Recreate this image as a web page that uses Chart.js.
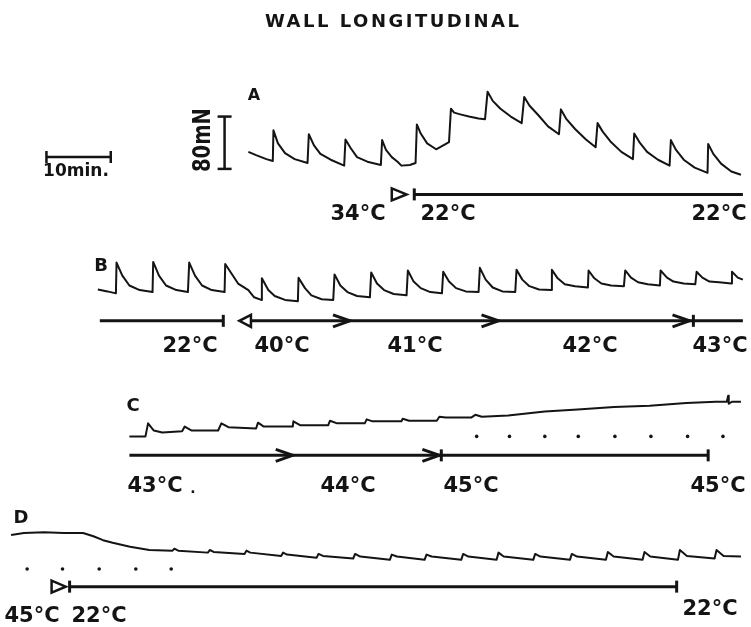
<!DOCTYPE html>
<html>
<head>
<meta charset="utf-8">
<title>Wall longitudinal</title>
<script src="https://cdn.jsdelivr.net/npm/chart.js@4.4.1/dist/chart.umd.min.js"></script>
<style>
  html, body { margin: 0; padding: 0; background: #fff; }
  #chart { display: block; }
</style>
</head>
<body>
<canvas id="chart" width="751" height="627"></canvas>
<script>
// page scale: 10 min = 65 px, 80 mN = 53 px
const PX_PER_MIN = 6.5;
const PX_PER_MN = 0.6625;
const X_MAX = 751 / PX_PER_MIN;
const Y_MAX = 627 / PX_PER_MN;
const INK = '#141414';
const FONT = '"DejaVu Sans", Verdana, sans-serif';

// traces: time (min from trace start), force (mN above trace baseline)
const aTime = [0, 1.2, 2.8, 3.8, 3.9, 4.6, 5.7, 7.2, 9.2, 9.4, 10.2, 11.2, 12.8, 14.9, 15.1, 15.9, 16.9, 18.5, 20.6, 20.8, 21.4, 22.3, 23.2, 23.8, 25.1, 26.0, 26.2, 26.8, 27.8, 29.2, 31.2, 31.5, 32.0, 33.1, 34.3, 35.8, 36.8, 37.2, 38.0, 39.2, 40.8, 42.5, 42.9, 43.7, 45.1, 46.6, 48.3, 48.6, 49.4, 50.8, 52.5, 54.0, 54.3, 55.1, 56.3, 58.0, 59.8, 60.0, 60.8, 62.0, 63.7, 65.5, 65.7, 66.5, 67.7, 69.4, 71.4, 71.5, 72.3, 73.5, 75.1, 76.6];
const aForce = [38, 33, 27, 24, 71, 51, 36, 27, 21, 65, 48, 35, 26, 17, 57, 44, 30, 23, 18, 56, 41, 30, 23, 17, 18, 21, 80, 66, 51, 42, 53, 104, 98, 95, 92, 89, 88, 130, 116, 104, 92, 82, 122, 109, 94, 77, 65, 103, 89, 73, 57, 45, 82, 69, 54, 38, 27, 66, 53, 38, 26, 17, 56, 41, 26, 14, 6, 50, 35, 20, 8, 3];

const bTime = [0, 1.5, 2.8, 2.9, 3.8, 4.9, 6.5, 8.5, 8.6, 9.5, 10.6, 12.2, 14.0, 14.2, 15.1, 16.2, 17.7, 19.7, 19.8, 20.8, 21.8, 23.4, 24.3, 25.4, 25.5, 26.5, 27.5, 29.1, 31.1, 31.2, 32.2, 33.2, 34.8, 36.6, 36.8, 37.7, 38.8, 40.3, 42.3, 42.5, 43.4, 44.5, 46.0, 48.0, 48.2, 49.1, 50.2, 51.7, 53.5, 53.7, 54.6, 55.7, 57.2, 59.2, 59.4, 60.3, 61.4, 62.9, 64.9, 65.1, 66.0, 67.1, 68.6, 70.5, 70.6, 71.5, 72.6, 74.2, 76.2, 76.3, 77.2, 78.3, 79.8, 81.8, 82.0, 82.9, 84.0, 85.5, 87.4, 87.5, 88.5, 89.5, 91.1, 92.9, 93.1, 94.0, 95.1, 96.6, 98.5, 98.6, 99.5, 100.3];
const bForce = [24, 21, 18, 65, 45, 30, 23, 20, 66, 45, 30, 23, 20, 65, 45, 30, 23, 20, 63, 48, 33, 23, 12, 8, 41, 23, 14, 8, 6, 42, 26, 15, 9, 8, 47, 30, 20, 14, 12, 50, 33, 23, 17, 15, 53, 36, 26, 20, 18, 51, 36, 26, 21, 20, 57, 39, 27, 21, 20, 54, 39, 29, 24, 23, 54, 41, 32, 29, 27, 53, 41, 33, 30, 29, 53, 42, 35, 32, 30, 53, 42, 36, 33, 32, 51, 42, 36, 35, 33, 51, 42, 39];

const cTime = [0, 2.5, 2.9, 3.8, 5.1, 8.2, 8.6, 9.7, 13.8, 14.3, 15.4, 19.7, 20.0, 20.9, 25.4, 25.5, 26.6, 30.9, 31.2, 32.3, 36.6, 36.9, 37.8, 42.3, 42.5, 43.5, 47.8, 48.2, 49.2, 53.2, 53.8, 54.8, 58.9, 64.6, 69.7, 75.4, 80.9, 86.6, 91.2, 92.9, 93.1, 93.2, 93.7, 95.1];
const cForce = [3, 3, 23, 12, 9, 11, 18, 12, 12, 23, 17, 15, 24, 18, 18, 26, 20, 20, 27, 23, 23, 29, 26, 26, 30, 27, 27, 33, 32, 32, 36, 33, 35, 41, 44, 48, 50, 54, 56, 56, 65, 53, 56, 56];

const dTime = [0, 2.0, 5.1, 8.2, 11.2, 12.8, 14.3, 15.8, 18.5, 21.5, 25.1, 25.4, 26.0, 30.6, 30.9, 31.5, 36.3, 36.6, 37.2, 42.0, 42.3, 42.9, 47.5, 47.8, 48.5, 53.2, 53.5, 54.3, 58.9, 59.2, 60.0, 64.3, 64.6, 65.4, 70.0, 70.3, 71.1, 75.5, 75.8, 76.6, 81.2, 81.5, 82.3, 86.9, 87.2, 88.0, 92.5, 92.8, 93.7, 98.2, 98.5, 99.4, 103.7, 104.0, 105.1, 109.4, 109.7, 110.8, 113.5];
const dForce = [41, 44, 45, 44, 44, 39, 33, 29, 23, 18, 17, 20, 17, 14, 18, 15, 12, 17, 14, 9, 14, 11, 6, 12, 9, 5, 12, 8, 3, 11, 8, 3, 11, 8, 3, 12, 8, 3, 14, 8, 3, 12, 8, 3, 12, 8, 3, 15, 8, 3, 15, 8, 3, 18, 9, 5, 18, 9, 8];

// temperature protocol bars (min from trace start)
const aBars = [[25.8, 76.9]];
const aTicks = [25.8];
const bBars = [[0.3, 19.5], [23.8, 100.3]];
const bTicks = [19.5, 92.6];
const bArrows = [39.2, 62.3, 92.0];
const cBars = [[0, 90.0]];
const cTicks = [48.5, 90.0];
const cArrows = [25.4, 48.2];
const cDots = [54.0, 59.1, 64.6, 69.8, 75.5, 81.1, 86.8, 92.3];
const dBars = [[9.1, 103.5]];
const dTicks = [9.1, 103.5];
const dDots = [2.5, 8.0, 13.7, 19.4, 24.9];

// where each record sits on the page (min, mN) and its protocol rows
const PANELS = [
  { t0: 38.0, f0: 682.3, time: aTime, force: aForce, barY: -27, bars: aBars, ticks: aTicks, arrows: [], tri: { tip: 24.6, base: 22.3 }, dots: [], dotY: 0 },
  { t0: 14.6, f0: 486.0, time: bTime, force: bForce, barY: -24, bars: bBars, ticks: bTicks, arrows: bArrows, tri: { tip: 22.0, base: 23.8 }, dots: [], dotY: 0 },
  { t0: 19.5, f0: 282.3, time: cTime, force: cForce, barY: -26, bars: cBars, ticks: cTicks, arrows: cArrows, tri: null, dots: cDots, dotY: 3 },
  { t0: 1.1, f0: 93.6, time: dTime, force: dForce, barY: -38, bars: dBars, ticks: dTicks, arrows: [], tri: { tip: 8.5, base: 6.3 }, dots: dDots, dotY: -11 }
];

// calibration bars, page units
const timeBar = { x0: 6.6, x1: 16.6, y: 712.5 };
const forceBar = { x: 34.3, y0: 694.3, y1: 774.3 };

// text, x, y, font size, letter spacing
const LABELS = [
  ['WALL LONGITUDINAL', 392, 22, 18, 2.5],
  ['A', 254, 96, 16, 0], ['B', 101, 266, 18, 0], ['C', 133, 406, 18, 0], ['D', 21, 518, 18, 0],
  ['10min.', 76, 172, 17, 0],
  ['34°C', 358, 215, 21, 0], ['22°C', 448, 215, 21, 0], ['22°C', 719, 215, 21, 0],
  ['22°C', 190, 347, 21, 0], ['40°C', 282, 347, 21, 0], ['41°C', 415, 347, 21, 0], ['42°C', 590, 347, 21, 0], ['43°C', 720, 347, 21, 0],
  ['43°C', 155, 487, 21, 0], ['.', 193, 489, 14, 0], ['44°C', 348, 487, 21, 0], ['45°C', 471, 487, 21, 0], ['45°C', 718, 487, 21, 0],
  ['45°C', 32, 617, 21, 0], ['22°C', 99, 617, 21, 0], ['22°C', 710, 610, 21, 0]
];

function toPage(p, t, f) {
  return { x: p.t0 + t, y: p.f0 + f };
}

function lineSet(data, width) {
  return { data, showLine: true, borderColor: INK, borderWidth: width, pointRadius: 0, tension: 0, borderJoinStyle: 'round', borderCapStyle: 'butt' };
}

const datasets = [];
PANELS.forEach(p => {
  datasets.push(lineSet(p.time.map((t, i) => toPage(p, t, p.force[i])), 2));
  p.bars.forEach(b => datasets.push(lineSet([toPage(p, b[0], p.barY), toPage(p, b[1], p.barY)], 3)));
  if (p.dots.length) {
    datasets.push({ data: p.dots.map(t => toPage(p, t, p.dotY)), showLine: false, pointRadius: 1.8, pointBackgroundColor: INK, pointBorderWidth: 0 });
  }
});
datasets.push(lineSet([{ x: timeBar.x0, y: timeBar.y }, { x: timeBar.x1, y: timeBar.y }], 2.5));
datasets.push(lineSet([{ x: forceBar.x, y: forceBar.y0 }, { x: forceBar.x, y: forceBar.y1 }], 2.5));

const marks = {
  id: 'marks',
  afterDatasetsDraw(chart) {
    const ctx = chart.ctx;
    const sx = chart.scales.x, sy = chart.scales.y;
    const px = v => sx.getPixelForValue(v);
    const py = v => sy.getPixelForValue(v);
    ctx.save();
    ctx.strokeStyle = INK;
    ctx.fillStyle = INK;
    ctx.lineCap = 'butt';

    const seg = (x0, y0, x1, y1, w) => {
      ctx.lineWidth = w;
      ctx.beginPath(); ctx.moveTo(x0, y0); ctx.lineTo(x1, y1); ctx.stroke();
    };

    PANELS.forEach(p => {
      const y = py(p.f0 + p.barY);
      p.ticks.forEach(t => { const x = px(p.t0 + t); seg(x, y - 6, x, y + 6, 3); });
      p.arrows.forEach(t => {
        const x = px(p.t0 + t);
        ctx.lineWidth = 3; ctx.lineJoin = 'miter';
        ctx.beginPath(); ctx.moveTo(x - 17, y - 6); ctx.lineTo(x, y); ctx.lineTo(x - 17, y + 6); ctx.stroke();
      });
      if (p.tri) {
        const xt = px(p.t0 + p.tri.tip), xb = px(p.t0 + p.tri.base);
        ctx.lineWidth = 2.5; ctx.lineJoin = 'miter';
        ctx.beginPath(); ctx.moveTo(xb, y - 6); ctx.lineTo(xt, y); ctx.lineTo(xb, y + 6); ctx.closePath(); ctx.stroke();
      }
    });

    // calibration bar end caps
    const ty = py(timeBar.y);
    [timeBar.x0, timeBar.x1].forEach(v => seg(px(v), ty - 6, px(v), ty + 6, 2.5));
    const fx = px(forceBar.x);
    [forceBar.y0, forceBar.y1].forEach(v => seg(fx - 7, py(v), fx + 7, py(v), 2.5));

    ctx.textAlign = 'center';
    ctx.textBaseline = 'middle';
    LABELS.forEach(([txt, x, y, size, spacing]) => {
      ctx.font = `bold ${size}px ${FONT}`;
      ctx.letterSpacing = spacing + 'px';
      ctx.fillText(txt, x + spacing / 2, y);
    });
    ctx.letterSpacing = '0px';

    // force calibration label, tall and narrow as in the original
    ctx.save();
    ctx.translate(203, 140);
    ctx.rotate(-Math.PI / 2);
    ctx.font = `bold 24px ${FONT}`;
    const w = ctx.measureText('80mN').width;
    ctx.scale(64 / w, 1);
    ctx.fillText('80mN', 0, 1);
    ctx.restore();

    ctx.restore();
  }
};

new Chart(document.getElementById('chart'), {
  type: 'scatter',
  data: { datasets },
  options: {
    responsive: false,
    animation: false,
    devicePixelRatio: 1,
    layout: { padding: 0 },
    plugins: { legend: { display: false }, tooltip: { enabled: false } },
    scales: {
      x: { type: 'linear', min: 0, max: X_MAX, display: false },
      y: { type: 'linear', min: 0, max: Y_MAX, display: false }
    }
  },
  plugins: [marks]
});
</script>
</body>
</html>
